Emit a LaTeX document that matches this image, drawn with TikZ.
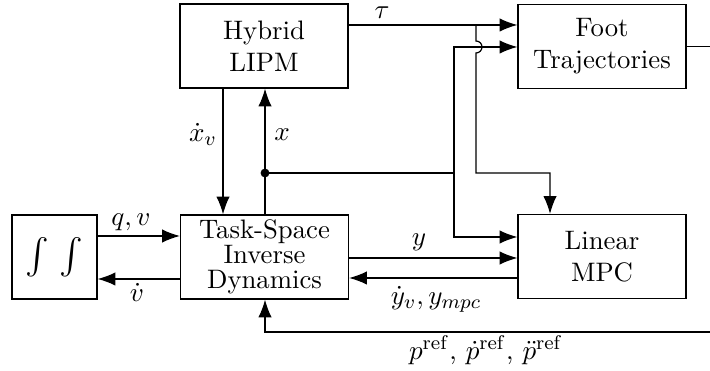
\documentclass[tikz,border=0pt]{standalone}
\usepackage{exscale}
\usetikzlibrary{arrows.meta}
\begin{document}
\begin{tikzpicture}[x=0.0142cm, y=-0.0142cm,
  font=\fontsize{10.8}{13}\selectfont,
  block/.style={draw, line width=0.5pt, minimum width=2.386cm, minimum height=1.193cm,
    align=center, inner sep=1pt},
  intblock/.style={block, minimum width=1.207cm},
  wire/.style={line width=0.5pt},
  arr/.style={wire, -{Latex[length=7.2pt,width=5.4pt]}},
  lbl/.style={inner sep=1pt},
  junction/.style={circle, fill, inner sep=0pt, minimum size=3.6pt}]
\useasboundingbox (0,0) rectangle (710,371);

% blocks
\node[block] (lipm) at (264,46) {Hybrid\\LIPM};
\node[block] (foot) at (602,46.5) {Foot\\Trajectories};
\node[intblock] (int) at (54.5,257) {\fontsize{15.5}{18}\selectfont$\int\mkern2mu\int$};
\node[block] (tsid) at (264.5,257) {Task-Space\\[-3pt]Inverse\\[-3pt]Dynamics};
\node[block] (mpc) at (602,256.5) {Linear\\MPC};

% junction and turning points
\coordinate (tauSplit) at (476,25);
\coordinate (hopTop) at (476,41);
\coordinate (tauDown) at (476,173);
\coordinate (tauTurn) at (550,173);
\coordinate (xDot) at (265,173);
\coordinate (xJoin) at (454,173);
\coordinate (xdv) at (223,0);
\coordinate (footOut) at (710,46.5);
\coordinate (refIn) at (710,332);

% LIPM -> foot trajectories (tau) and down to the MPC
\draw[arr] (lipm.east |- tauSplit) -- (foot.west |- tauSplit);
\node[lbl] at (382,13) {$\tau$};
\draw[arr] (tauSplit) -- (hopTop) arc[start angle=-90, end angle=90, radius=6]
  -- (tauDown) -| (mpc.north -| tauTurn);

% state x from TSID to LIPM, branching to foot trajectories and MPC
\draw[arr] (tsid.north -| xDot) -- (lipm.south -| xDot);
\node[junction] at (xDot) {};
\draw[wire] (xDot) -- (xJoin);
\draw[arr] (xJoin) |- (foot.west |- 0,47);
\draw[arr] (xJoin) |- (mpc.west |- 0,237);
\node[lbl] at (282,135) {$x$};

% xdot_v from LIPM to TSID
\draw[arr] (lipm.south -| xdv) -- (tsid.north -| xdv);
\node[lbl] at (203,134) {$\dot{x}_v$};

% integrator loop
\draw[arr] (int.east |- 0,236) -- (tsid.west |- 0,236);
\node[lbl] at (131,222) {$q, v$};
\draw[arr] (tsid.west |- 0,279) -- (int.east |- 0,279);
\node[lbl] at (137,292) {$\dot{v}$};

% TSID <-> MPC
\draw[arr] (tsid.east |- 0,258) -- (mpc.west |- 0,258);
\node[lbl] at (419,242) {$y$};
\draw[arr] (mpc.west |- 0,278) -- (tsid.east |- 0,278);
\node[lbl] at (436,299) {$\dot{y}_v, y_{mpc}$};

% outputs leaving on the right
\draw[wire] (foot.east |- footOut) -- (footOut);
\draw[arr] (refIn) -| (tsid.south -| xDot);
\node[lbl] at (486,350) {$p^{\mathrm{ref}}$, $\dot{p}^{\mathrm{ref}}$, $\ddot{p}^{\mathrm{ref}}$};
\end{tikzpicture}
\end{document}
